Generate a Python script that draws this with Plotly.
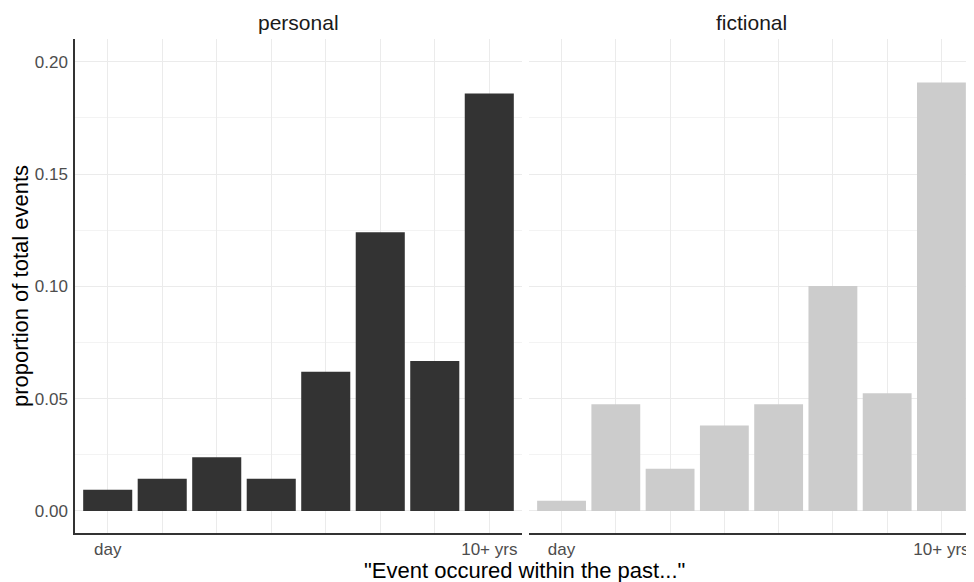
import plotly.graph_objects as go

categories = ["day", "week", "month", "3 months", "6 months", "year", "5 yrs", "10+ yrs"]
tick_labels = ["day", "", "", "", "", "", "", "10+ yrs"]
personal = [0.0095, 0.0143, 0.0239, 0.0143, 0.0620, 0.1241, 0.0668, 0.1858]
fictional = [0.0046, 0.0475, 0.0188, 0.0380, 0.0475, 0.1002, 0.0524, 0.1907]
y_ticks = [0.0, 0.05, 0.10, 0.15, 0.20]

FONT = "Liberation Sans, Arial, sans-serif"

fig = go.Figure()
fig.add_trace(go.Bar(x=categories, y=personal, marker=dict(color="#333333", line=dict(width=0)),
                     xaxis="x", yaxis="y", showlegend=False, width=0.9))
fig.add_trace(go.Bar(x=categories, y=fictional, marker=dict(color="#CCCCCC", line=dict(width=0)),
                     xaxis="x2", yaxis="y2", showlegend=False, width=0.9))

xcommon = dict(type="category", categoryorder="array", categoryarray=categories,
               range=[-0.6, 7.6], tickmode="array", tickvals=categories, ticktext=tick_labels,
               showgrid=True, gridcolor="#EBEBEB", gridwidth=1.2,
               showline=True, linecolor="#333333", linewidth=1.5,
               ticks="", automargin=False,
               tickfont=dict(family=FONT, size=17, color="#4D4D4D"), zeroline=False)
ycommon = dict(range=[-0.0098, 0.2101], tickmode="array", tickvals=y_ticks,
               showgrid=True, gridcolor="#EBEBEB", gridwidth=1.2, zeroline=False, automargin=False,
               minor=dict(dtick=0.025, tick0=0, showgrid=True, gridcolor="#F3F3F3", gridwidth=1))

fig.update_layout(
    width=966, height=574,
    margin=dict(l=67, r=0, t=31, b=49),
    paper_bgcolor="white", plot_bgcolor="white",
    font=dict(family=FONT),
    bargap=0.1,
    xaxis=dict(domain=[0, 0.4972], anchor="y", **xcommon),
    xaxis2=dict(domain=[0.505, 1], anchor="y2", **xcommon),
    yaxis=dict(anchor="x", showline=True, linecolor="#333333", linewidth=1.5,
               tickformat=".2f", ticks="outside", ticklen=2, tickcolor="rgba(0,0,0,0)",
               tickfont=dict(family=FONT, size=17, color="#4D4D4D"),
               title=dict(text="proportion of total events", font=dict(family=FONT, size=22, color="black"),
                          standoff=2),
               **ycommon),
    yaxis2=dict(anchor="x2", matches="y", showticklabels=False, showline=False, **ycommon),
    annotations=[
        dict(text="personal", x=0.2486, y=1, xref="paper", yref="paper", xanchor="center",
             yanchor="bottom", yshift=3, showarrow=False, font=dict(family=FONT, size=21, color="#1A1A1A")),
        dict(text="fictional", x=0.7525, y=1, xref="paper", yref="paper", xanchor="center",
             yanchor="bottom", yshift=3, showarrow=False, font=dict(family=FONT, size=21, color="#1A1A1A")),
        dict(text="\"Event occured within the past...\"", x=0.5, y=0, xref="paper", yref="paper",
             xanchor="center", yanchor="middle", yshift=-37, showarrow=False,
             font=dict(family=FONT, size=22, color="black")),
    ],
)

fig.write_html("out.html")
